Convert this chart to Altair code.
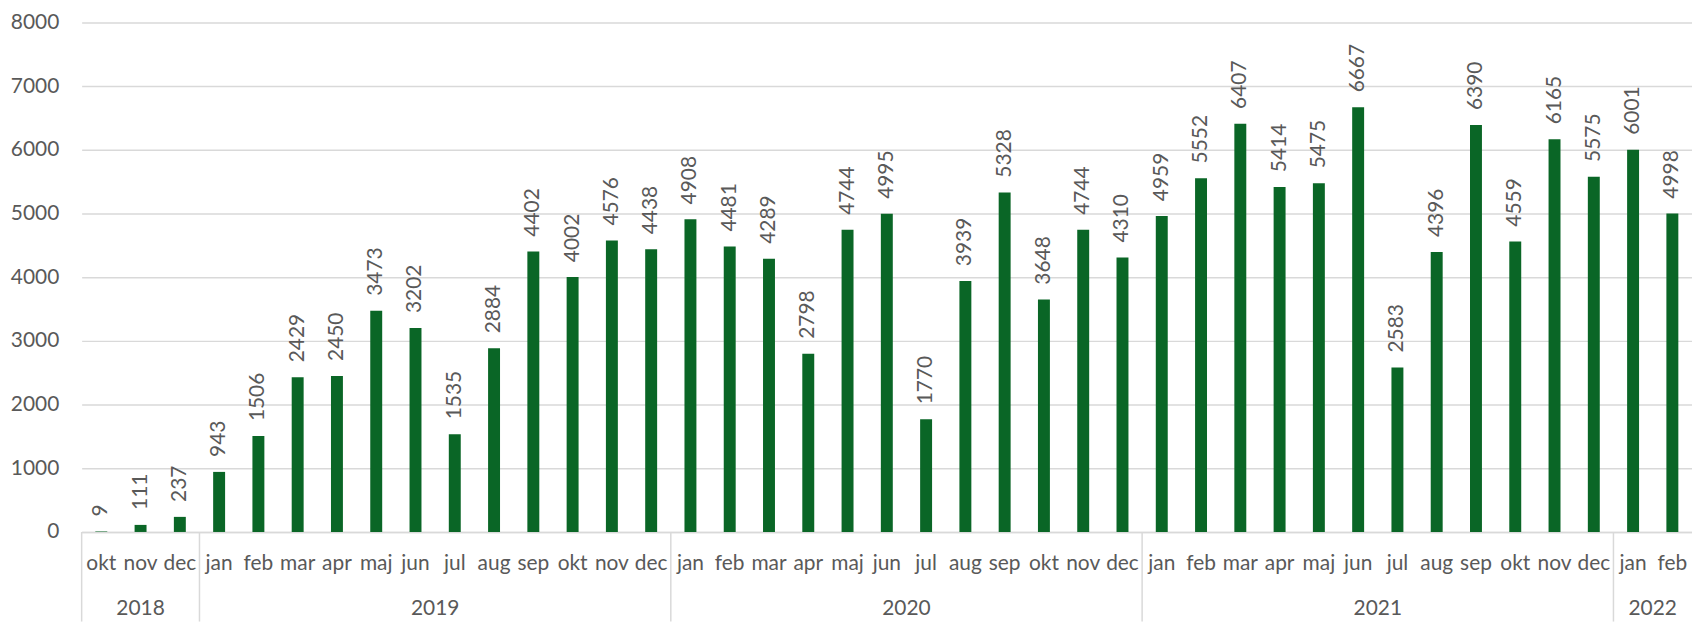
import altair as alt
import pandas as pd

# ---- data ----
year_labels = ["2018", "2019", "2020", "2021", "2022"]
year_counts = [3, 12, 12, 12, 2]
months = [
    "okt", "nov", "dec",
    "jan", "feb", "mar", "apr", "maj", "jun", "jul", "aug", "sep", "okt", "nov", "dec",
    "jan", "feb", "mar", "apr", "maj", "jun", "jul", "aug", "sep", "okt", "nov", "dec",
    "jan", "feb", "mar", "apr", "maj", "jun", "jul", "aug", "sep", "okt", "nov", "dec",
    "jan", "feb",
]
values = [
    9, 111, 237,
    943, 1506, 2429, 2450, 3473, 3202, 1535, 2884, 4402, 4002, 4576, 4438,
    4908, 4481, 4289, 2798, 4744, 4995, 1770, 3939, 5328, 3648, 4744, 4310,
    4959, 5552, 6407, 5414, 5475, 6667, 2583, 4396, 6390, 4559, 6165, 5575,
    6001, 4998,
]
y_ticks = [0, 1000, 2000, 3000, 4000, 5000, 6000, 7000, 8000]

# ---- derived tables ----
bar_years = [y for y, c in zip(year_labels, year_counts) for _ in range(c)]
keys = [f"{y}-{m}" for y, m in zip(bar_years, months)]
df = pd.DataFrame({"key": keys, "value": values})

starts, s = [], 0
for c in year_counts:
    starts.append(s)
    s += c
sep_df = pd.DataFrame({"key": [keys[i] for i in starts]})

yl_int, yl_half = [], []
for y, st, c in zip(year_labels, starts, year_counts):
    center2 = 2 * st + c  # twice the center position in band units
    if center2 % 2 == 0:
        yl_int.append({"key": keys[center2 // 2], "year": y})
    else:
        yl_half.append({"key": keys[center2 // 2], "year": y})
yl_int_df = pd.DataFrame(yl_int)
yl_half_df = pd.DataFrame(yl_half)

FONT = "Lato"
TXT = "#595959"
GRID = "#d9d9d9"
GREEN = "#0A6626"
W, H = 1618, 512

x_scale = alt.Scale(domain=keys, paddingInner=0, paddingOuter=0)
x_axis = alt.Axis(
    title=None,
    labelExpr="split(datum.value, '-')[1]",
    labelAngle=0,
    ticks=False,
    tickSize=0,
    labelPadding=32,
    labelBaseline="middle",
    labelOverlap=False,
    labelFont=FONT,
    labelFontSize=21,
    labelColor=TXT,
    domainColor=GRID,
    domainWidth=1.5,
    grid=False,
)


def X(bp=0.5):
    return alt.X("key:N", sort=None, scale=x_scale, axis=x_axis, bandPosition=bp)


y_enc = alt.Y(
    "value:Q",
    scale=alt.Scale(domain=[0, 8000], nice=False, zero=True),
    axis=alt.Axis(
        title=None,
        values=y_ticks,
        format="d",
        grid=True,
        gridColor=GRID,
        gridWidth=1.5,
        domain=False,
        ticks=False,
        tickSize=0,
        labelPadding=23,
        labelFont=FONT,
        labelFontSize=21,
        labelColor=TXT,
    ),
)

bars = alt.Chart(df).mark_bar(size=12, color=GREEN).encode(x=X(), y=y_enc)

labels = alt.Chart(df).mark_text(
    angle=270, align="left", baseline="middle", dx=15,
    font=FONT, fontSize=21, color=TXT,
).encode(x=X(), y=alt.Y("value:Q"), text=alt.Text("value:Q", format="d"))

seps = alt.Chart(sep_df).mark_rule(color=GRID, strokeWidth=1.5).encode(
    x=X(0), y=alt.value(H), y2=alt.value(H + 90)
)

years_a = alt.Chart(yl_int_df).mark_text(
    align="center", baseline="middle", font=FONT, fontSize=21, color=TXT
).encode(x=X(0), y=alt.value(H + 77), text="year:N")

years_b = alt.Chart(yl_half_df).mark_text(
    align="center", baseline="middle", font=FONT, fontSize=21, color=TXT
).encode(x=X(0.5), y=alt.value(H + 77), text="year:N")

chart = (
    alt.layer(bars, labels, seps, years_a, years_b)
    .properties(
        width=W,
        height=H,
        autosize=alt.AutoSizeParams(type="none"),
        padding={"left": 74, "top": 13, "right": 0, "bottom": 90},
        background="white",
    )
    .configure_view(stroke=None)
)

chart.save("out.html", embed_options={"renderer": "svg", "actions": False})
